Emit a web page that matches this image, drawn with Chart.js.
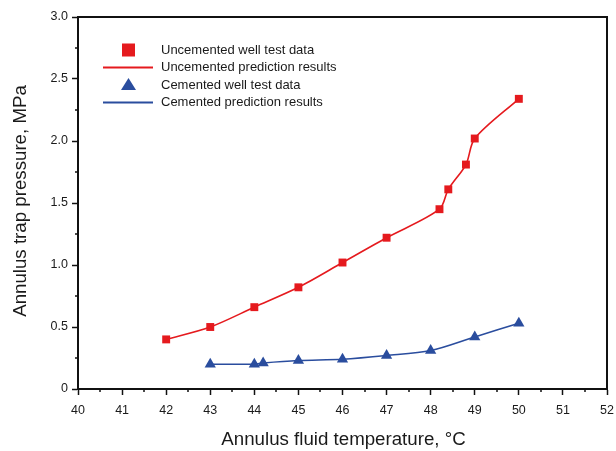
<!DOCTYPE html>
<html>
<head>
<meta charset="utf-8">
<script src="https://cdn.jsdelivr.net/npm/chart.js@4/dist/chart.umd.min.js"></script>
<style>
  html, body { margin: 0; padding: 0; background: #fff; }
  #wrap { width: 616px; height: 451px; }
</style>
</head>
<body>
<div id="wrap"><canvas id="trapChart" width="616" height="451"></canvas></div>
<script>
// data
const uncementedTemp = [42, 43, 44, 45, 46, 47, 48.2, 48.4, 48.8, 49, 50];
const uncementedPressure = [0.40, 0.50, 0.66, 0.82, 1.02, 1.22, 1.45, 1.61, 1.81, 2.02, 2.34];
const cementedTemp = [43, 44, 44.2, 45, 46, 47, 48, 49, 50];
const cementedPressure = [0.20, 0.20, 0.21, 0.23, 0.24, 0.27, 0.31, 0.42, 0.53];
const xTicks = [40, 41, 42, 43, 44, 45, 46, 47, 48, 49, 50, 51, 52];
const yTicks = [0, 0.5, 1.0, 1.5, 2.0, 2.5, 3.0];

const RED = "#e51a1e";
const BLUE = "#2a4d9e";
const FONT = "'Liberation Sans', Arial, sans-serif";

const toPoints = (xs, ys) => xs.map((x, i) => ({ x: x, y: ys[i] }));

// box, minor ticks, axis titles and legend
const decorations = {
  id: "decorations",
  afterDraw(chart) {
    const { ctx, chartArea: a, scales } = chart;
    const xs = scales.x, ys = scales.y;
    ctx.save();
    ctx.strokeStyle = "#111";
    ctx.lineWidth = 2;
    ctx.strokeRect(a.left, a.top, a.right - a.left, a.bottom - a.top);

    // minor ticks
    ctx.lineWidth = 1.5;
    ctx.beginPath();
    for (let v = 40.5; v < 52; v += 1) {
      const px = Math.round(xs.getPixelForValue(v));
      ctx.moveTo(px, a.bottom);
      ctx.lineTo(px, a.bottom + 3);
    }
    for (let v = 0.25; v < 3; v += 0.5) {
      const py = Math.round(ys.getPixelForValue(v));
      ctx.moveTo(a.left, py);
      ctx.lineTo(a.left - 3, py);
    }
    ctx.stroke();

    // axis titles
    ctx.fillStyle = "#1a1a1a";
    ctx.font = "18.7px " + FONT;
    ctx.textAlign = "center";
    ctx.textBaseline = "middle";
    ctx.fillText("Annulus fluid temperature, \u00B0C", (a.left + a.right) / 2 + 1, 440);
    ctx.save();
    ctx.translate(21, 201);
    ctx.rotate(-Math.PI / 2);
    ctx.fillText("Annulus trap pressure, MPa", 0, 0);
    ctx.restore();

    // legend
    const rows = [
      { label: "Uncemented well test data", kind: "rect", color: RED },
      { label: "Uncemented prediction results", kind: "line", color: RED },
      { label: "Cemented well test data", kind: "tri", color: BLUE },
      { label: "Cemented prediction results", kind: "line", color: BLUE },
    ];
    ctx.font = "13px " + FONT;
    ctx.textAlign = "left";
    rows.forEach((r, i) => {
      const y = 50 + i * 17.5;
      ctx.fillStyle = r.color;
      ctx.strokeStyle = r.color;
      if (r.kind === "rect") {
        ctx.fillRect(122, y - 6.5, 13, 13);
      } else if (r.kind === "tri") {
        ctx.beginPath();
        ctx.moveTo(128.5, y - 7);
        ctx.lineTo(136, y + 5);
        ctx.lineTo(121, y + 5);
        ctx.closePath();
        ctx.fill();
      } else {
        ctx.lineWidth = 1.8;
        ctx.beginPath();
        ctx.moveTo(103, y);
        ctx.lineTo(153, y);
        ctx.stroke();
      }
      ctx.fillStyle = "#1a1a1a";
      ctx.fillText(r.label, 161, y);
    });
    ctx.restore();
  },
};

const ctx1 = document.getElementById("trapChart").getContext("2d");
new Chart(ctx1, {
  type: "scatter",
  data: {
    datasets: [
      {
        label: "Uncemented prediction results",
        data: toPoints(uncementedTemp, uncementedPressure),
        showLine: true,
        borderColor: RED,
        borderWidth: 1.6,
        pointRadius: 0,
        tension: 0.3,
      },
      {
        label: "Cemented prediction results",
        data: toPoints(cementedTemp, cementedPressure),
        showLine: true,
        borderColor: BLUE,
        borderWidth: 1.6,
        pointRadius: 0,
        tension: 0.3,
      },
      {
        label: "Uncemented well test data",
        data: toPoints(uncementedTemp, uncementedPressure),
        pointStyle: "rect",
        pointRadius: 5.6,
        backgroundColor: RED,
        borderColor: RED,
        borderWidth: 0,
      },
      {
        label: "Cemented well test data",
        data: toPoints(cementedTemp, cementedPressure),
        pointStyle: "triangle",
        pointRadius: 6.5,
        backgroundColor: BLUE,
        borderColor: BLUE,
        borderWidth: 0,
      },
    ],
  },
  options: {
    responsive: false,
    animation: false,
    layout: { padding: { left: 0, top: 17, right: 9, bottom: 0 } },
    plugins: {
      legend: { display: false },
      tooltip: { enabled: false },
    },
    scales: {
      x: {
        type: "linear",
        min: 40,
        max: 52,
        afterBuildTicks: (s) => { s.ticks = xTicks.map((v) => ({ value: v })); },
        afterFit: (s) => { s.height = 62; s.paddingLeft = 0; s.paddingRight = 0; },
        grid: { drawOnChartArea: false, drawTicks: true, tickLength: 6, tickWidth: 1.5, tickColor: "#111" },
        border: { display: true, color: "#111", width: 2 },
        ticks: { color: "#1a1a1a", font: { family: FONT, size: 12.5 }, padding: 8, maxRotation: 0 },
      },
      y: {
        type: "linear",
        min: 0,
        max: 3,
        afterBuildTicks: (s) => { s.ticks = yTicks.map((v) => ({ value: v })); },
        afterFit: (s) => { s.width = 78; s.paddingTop = 0; s.paddingBottom = 0; },
        grid: { drawOnChartArea: false, drawTicks: true, tickLength: 6, tickWidth: 1.5, tickColor: "#111" },
        border: { display: true, color: "#111", width: 2 },
        ticks: {
          color: "#1a1a1a",
          font: { family: FONT, size: 12.5 },
          padding: 4,
          callback: (v) => (v === 0 ? "0" : v.toFixed(1)),
        },
      },
    },
  },
  plugins: [decorations],
});
</script>
</body>
</html>
